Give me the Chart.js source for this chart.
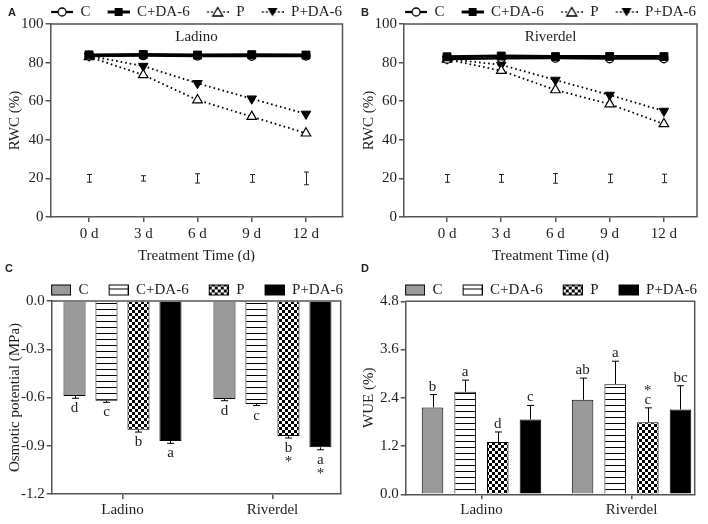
<!DOCTYPE html>
<html><head><meta charset="utf-8">
<script src="https://cdn.jsdelivr.net/npm/chart.js@4/dist/chart.umd.min.js"></script>
<style>
html,body{margin:0;padding:0;background:#fff;}
#wrap{position:relative;width:708px;height:524px;overflow:hidden;background:#fff;}
canvas{position:absolute;display:block;}
.tag{position:absolute;font:bold 11px 'Liberation Sans',Arial,sans-serif;color:#222;line-height:13px;}
</style></head><body>
<div id="wrap">
  <canvas id="cA" width="354" height="262" style="left:0;top:0"></canvas>
  <canvas id="cB" width="354" height="262" style="left:354px;top:0"></canvas>
  <canvas id="cC" width="354" height="262" style="left:0;top:262px"></canvas>
  <canvas id="cD" width="354" height="262" style="left:354px;top:262px"></canvas>
  <div class="tag" style="left:8px;top:6px">A</div>
  <div class="tag" style="left:361px;top:6px">B</div>
  <div class="tag" style="left:5px;top:262px">C</div>
  <div class="tag" style="left:361px;top:262px">D</div>
</div>
<script>
// ---------------- data ----------------
const seriesNames = ['C', 'C+DA-6', 'P', 'P+DA-6'];
const days = [0, 3, 6, 9, 12];
const dayLabels = ['0 d', '3 d', '6 d', '9 d', '12 d'];
const rwcTicks = [0, 20, 40, 60, 80, 100];

const rwcLadinoC   = [83.4, 83.6, 83.4, 83.3, 83.4];
const rwcLadinoCDA = [84.0, 84.2, 83.9, 84.1, 83.9];
const rwcLadinoP   = [83.0, 73.6, 60.6, 52.0, 43.4];
const rwcLadinoPDA = [83.5, 78.2, 69.3, 61.3, 53.4];
const rwcLadinoLSD = [2.0, 1.4, 2.4, 2.0, 3.3];

const rwcRiverdelC   = [81.8, 82.2, 82.3, 82.0, 82.0];
const rwcRiverdelCDA = [83.0, 83.4, 83.1, 83.2, 83.1];
const rwcRiverdelP   = [81.7, 75.8, 65.8, 58.5, 48.2];
const rwcRiverdelPDA = [82.0, 78.8, 71.0, 63.2, 54.9];
const rwcRiverdelLSD = [2.0, 2.0, 2.5, 2.2, 2.2];
const lsdLevel = 20;

const cultivars = ['Ladino', 'Riverdel'];
const osmTicks = [-1.2, -0.9, -0.6, -0.3, 0.0];
const osmC   = [-0.59, -0.61];
const osmCDA = [-0.62, -0.64];
const osmP   = [-0.80, -0.84];
const osmPDA = [-0.87, -0.91];
const osmErrC   = [0.015, 0.010];
const osmErrCDA = [0.010, 0.010];
const osmErrP   = [0.015, 0.012];
const osmErrPDA = [0.015, 0.015];
const osmLetC   = ['d', 'd'];
const osmLetCDA = ['c', 'c'];
const osmLetP   = ['b', 'b'];
const osmLetPDA = ['a', 'a'];
const osmStarP   = ['', '*'];
const osmStarPDA = ['', '*'];

const wueTicks = [0.0, 1.2, 2.4, 3.6, 4.8];
const wueC   = [2.16, 2.35];
const wueCDA = [2.55, 2.74];
const wueP   = [1.30, 1.79];
const wuePDA = [1.86, 2.11];
const wueErrC   = [0.32, 0.54];
const wueErrCDA = [0.29, 0.57];
const wueErrP   = [0.25, 0.36];
const wueErrPDA = [0.35, 0.59];
const wueLetC   = ['b', 'ab'];
const wueLetCDA = ['a', 'a'];
const wueLetP   = ['d', 'c'];
const wueLetPDA = ['c', 'bc'];
const wueStarP  = ['', '*'];
const noStar = ['', ''];

// ---------------- style ----------------
const FONT = "'Liberation Serif','Times New Roman',serif";
const AX = '#555555';
const TXT = '#1e1e1e';
const GRAY = '#9a9a9a';
Chart.defaults.font.family = FONT;
Chart.defaults.color = TXT;

function stripeTile() {
  const s = document.createElement('canvas'); s.width = 4; s.height = 6;
  const g = s.getContext('2d'); g.fillStyle = '#fff'; g.fillRect(0, 0, 4, 6);
  g.fillStyle = '#000'; g.fillRect(0, 5, 4, 1); return s;
}
function checkerTile() {
  const k = document.createElement('canvas'); k.width = 6; k.height = 6;
  const g = k.getContext('2d'); g.fillStyle = '#fff'; g.fillRect(0, 0, 6, 6);
  g.fillStyle = '#000'; g.fillRect(0, 0, 3, 3); g.fillRect(3, 3, 3, 3); return k;
}
function fills(ctx) {
  return [GRAY, ctx.createPattern(stripeTile(), 'repeat'), ctx.createPattern(checkerTile(), 'repeat'), '#000'];
}

function lineIcon(kind) {
  const c = document.createElement('canvas'); c.width = 27; c.height = 14;
  const g = c.getContext('2d'); const y = 7, x0 = 5, x1 = 27, cx = 16;
  g.strokeStyle = '#000'; g.fillStyle = '#000';
  if (kind < 2) {
    g.lineWidth = kind === 0 ? 2.2 : 3; g.beginPath(); g.moveTo(x0, y); g.lineTo(x1, y); g.stroke();
  } else {
    for (let x = x0 + 0.5; x < x1; x += 4) { g.fillRect(x, y - 0.8, 1.6, 1.6); }
  }
  g.lineWidth = 1.3;
  if (kind === 0) { g.beginPath(); g.arc(cx, y, 4, 0, Math.PI * 2); g.fillStyle = '#fff'; g.fill(); g.stroke(); }
  if (kind === 1) { g.fillRect(cx - 4, y - 4, 8, 8); }
  if (kind === 2) { g.beginPath(); g.moveTo(cx, y - 4.5); g.lineTo(cx - 5, y + 4); g.lineTo(cx + 5, y + 4); g.closePath(); g.fillStyle = '#fff'; g.fill(); g.stroke(); }
  if (kind === 3) { g.beginPath(); g.moveTo(cx - 5, y - 4); g.lineTo(cx + 5, y - 4); g.lineTo(cx, y + 4.5); g.closePath(); g.fill(); }
  return c;
}
function barIcon(kind) {
  const c = document.createElement('canvas'); c.width = 29; c.height = 13;
  const g = c.getContext('2d'); const f = fills(g);
  g.fillStyle = f[kind]; g.fillRect(9, 1, 20, 11);
  g.strokeStyle = '#000'; g.lineWidth = 1; g.strokeRect(9.5, 1.5, 19, 10);
  return c;
}

function legendCfg(icons, pad, maxH) {
  return {
    display: true, position: 'top', align: 'end', fullSize: true, maxHeight: maxH,
    labels: {
      usePointStyle: true, pointStyleWidth: icons[0].width, padding: pad,
      color: TXT, font: { family: FONT, size: 15 },
      sort: (a, b) => a.datasetIndex - b.datasetIndex,
      generateLabels(chart) {
        const items = Chart.defaults.plugins.legend.labels.generateLabels(chart);
        items.forEach(it => { it.pointStyle = icons[it.datasetIndex]; it.rotation = 0; });
        return items;
      }
    }
  };
}

const decor = {
  id: 'decor',
  afterDatasetsDraw(chart, args, opts) {
    const { ctx, chartArea: a } = chart;
    ctx.save();
    ctx.strokeStyle = AX; ctx.lineWidth = 1.5;
    ctx.beginPath(); ctx.moveTo(a.left, a.top); ctx.lineTo(a.right, a.top); ctx.lineTo(a.right, a.bottom); ctx.stroke();
    if (opts.title) {
      ctx.fillStyle = TXT; ctx.font = '15px ' + FONT; ctx.textAlign = 'center'; ctx.textBaseline = 'middle';
      ctx.fillText(opts.title, (a.left + a.right) / 2, a.top + 13);
    }
    ctx.restore();
  }
};

const lsdBars = {
  id: 'lsdBars',
  afterDatasetsDraw(chart, args, opts) {
    if (!opts.half) return;
    const { ctx } = chart; const xs = chart.scales.x, ys = chart.scales.y;
    ctx.save(); ctx.strokeStyle = '#222'; ctx.lineWidth = 1;
    days.forEach((d, i) => {
      const px = Math.round(xs.getPixelForValue(d)) + 0.5;
      const t = ys.getPixelForValue(opts.level + opts.half[i]);
      const b = ys.getPixelForValue(opts.level - opts.half[i]);
      ctx.beginPath();
      ctx.moveTo(px, t); ctx.lineTo(px, b);
      ctx.moveTo(px - 2.5, t); ctx.lineTo(px + 2.5, t);
      ctx.moveTo(px - 2.5, b); ctx.lineTo(px + 2.5, b);
      ctx.stroke();
    });
    ctx.restore();
  }
};

const barExtras = {
  id: 'barExtras',
  afterDatasetsDraw(chart, args, opts) {
    const { ctx } = chart; const ys = chart.scales.y;
    chart.data.datasets.forEach((ds, di) => {
      const meta = chart.getDatasetMeta(di);
      meta.data.forEach((bar, i) => {
        const v = ds.data[i].y, e = ds.errs[i];
        const sg = v < 0 ? -1 : 1;
        const y0 = ys.getPixelForValue(v), y1 = ys.getPixelForValue(v + sg * e);
        const px = Math.round(bar.x) + 0.5;
        ctx.save();
        ctx.strokeStyle = '#000'; ctx.lineWidth = 1;
        ctx.beginPath(); ctx.moveTo(px, y0); ctx.lineTo(px, y1);
        ctx.moveTo(px - 3.5, y1); ctx.lineTo(px + 3.5, y1); ctx.stroke();
        ctx.fillStyle = TXT; ctx.font = '15px ' + FONT; ctx.textAlign = 'center'; ctx.textBaseline = 'alphabetic';
        const let1 = ds.lets[i], star = ds.stars[i];
        if (sg < 0) {
          ctx.fillText(let1, bar.x, y1 + 14);
          if (star) ctx.fillText(star, bar.x, y1 + 28);
        } else {
          ctx.fillText(let1, bar.x, y1 - 4);
          if (star) ctx.fillText(star, bar.x, y1 - 13);
        }
        ctx.restore();
      });
    });
  }
};

function yAxis(ticksArr, fmt, title, w) {
  return {
    type: 'linear', position: 'left', min: ticksArr[0], max: ticksArr[ticksArr.length - 1],
    afterBuildTicks(s) { s.ticks = ticksArr.map(v => ({ value: v })); },
    ticks: { color: TXT, font: { family: FONT, size: 15 }, padding: 2, callback: fmt },
    grid: { display: true, drawOnChartArea: false, drawTicks: true, tickLength: 5, color: AX, lineWidth: 1.5 },
    border: { display: true, color: AX, width: 1.5 },
    title: { display: true, text: title, color: TXT, font: { family: FONT, size: 15 }, padding: { top: 6, bottom: 0 } },
    afterFit(s) { s.width = w; }
  };
}
function padAxis(w) {
  return { type: 'linear', position: 'right', display: true, ticks: { display: false }, grid: { display: false },
    border: { display: false }, afterFit(s) { s.width = w; } };
}
function xAxis(min, max, vals, labels, title, h, tpad) {
  const ax = {
    type: 'linear', position: 'bottom', min, max, offset: false,
    afterBuildTicks(s) { s.ticks = vals.map(v => ({ value: v })); },
    ticks: { color: TXT, font: { family: FONT, size: 15 }, padding: tpad, autoSkip: false, maxRotation: 0,
      callback: (v, i) => labels[i] },
    grid: { display: true, offset: false, drawOnChartArea: false, drawTicks: true, tickLength: 5, color: AX, lineWidth: 1.5 },
    border: { display: true, color: AX, width: 1.5 },
    afterFit(s) { s.height = h; }
  };
  if (title) ax.title = { display: true, text: title, color: TXT, font: { family: FONT, size: 15 }, padding: { top: 0, bottom: -3 } };
  return ax;
}

function lineChart(id, title, c, cda, p, pda, lsd, xmin, xmax, yw, rw) {
  const pts = arr => days.map((d, i) => ({ x: d, y: arr[i] }));
  const icons = [0, 1, 2, 3].map(lineIcon);
  return new Chart(document.getElementById(id), {
    type: 'line',
    data: {
      datasets: [
        { label: seriesNames[0], data: pts(c), order: 1, borderColor: '#000', borderWidth: 2.2,
          pointStyle: 'circle', pointRadius: 4, pointBackgroundColor: '#fff', pointBorderColor: '#000', pointBorderWidth: 1.3 },
        { label: seriesNames[1], data: pts(cda), order: 0, borderColor: '#000', borderWidth: 3,
          pointStyle: 'rect', pointRadius: 5.6, pointBackgroundColor: '#000', pointBorderColor: '#000', pointBorderWidth: 1 },
        { label: seriesNames[2], data: pts(p), order: 2, borderColor: '#000', borderWidth: 1.8, borderDash: [1.6, 3],
          pointStyle: 'triangle', pointRadius: 5.5, pointBackgroundColor: '#fff', pointBorderColor: '#000', pointBorderWidth: 1.2 },
        { label: seriesNames[3], data: pts(pda), order: 2, borderColor: '#000', borderWidth: 1.8, borderDash: [1.6, 3],
          pointStyle: 'triangle', rotation: 180, pointRadius: 5.5, pointBackgroundColor: '#000', pointBorderColor: '#000', pointBorderWidth: 1 }
      ]
    },
    options: {
      responsive: false, animation: false, events: [],
      layout: { padding: { top: -7.5, left: 0, right: 0, bottom: 0 } },
      plugins: {
        legend: legendCfg(icons, 12, 31.5),
        tooltip: { enabled: false },
        decor: { title },
        lsdBars: { level: lsdLevel, half: lsd }
      },
      scales: {
        x: xAxis(xmin, xmax, days, dayLabels, 'Treatment Time (d)', 45, 3),
        y: yAxis(rwcTicks, v => String(v), 'RWC (%)', yw),
        yr: padAxis(rw)
      }
    },
    plugins: [decor, lsdBars]
  });
}

function barChart(id, ticksArr, fmt, ytitle, sets, xmin, xmax, catPct, barPct, padTop, maxH, xh, yw, rw) {
  const cv = document.getElementById(id);
  const f = fills(cv.getContext('2d'));
  const icons = [0, 1, 2, 3].map(barIcon);
  return new Chart(cv, {
    type: 'bar',
    data: {
      datasets: sets.map((s, k) => ({
        label: seriesNames[k], data: cultivars.map((_, i) => ({ x: i, y: s.v[i] })),
        backgroundColor: f[k], borderColor: '#000', borderWidth: 1,
        errs: s.e, lets: s.l, stars: s.s
      }))
    },
    options: {
      responsive: false, animation: false, events: [],
      layout: { padding: { top: padTop, left: 0, right: 0, bottom: 0 } },
      datasets: { bar: { categoryPercentage: catPct, barPercentage: barPct } },
      plugins: {
        legend: legendCfg(icons, 11, maxH),
        tooltip: { enabled: false },
        decor: {}
      },
      scales: {
        x: xAxis(xmin, xmax, cultivars.map((_, i) => i), cultivars, null, xh, 2),
        y: yAxis(ticksArr, fmt, ytitle, yw),
        yr: padAxis(rw)
      }
    },
    plugins: [decor, barExtras]
  });
}

lineChart('cA', 'Ladino', rwcLadinoC, rwcLadinoCDA, rwcLadinoP, rwcLadinoPDA, rwcLadinoLSD, -2.13, 14.02, 50.5, 11.5);
lineChart('cB', 'Riverdel', rwcRiverdelC, rwcRiverdelCDA, rwcRiverdelP, rwcRiverdelPDA, rwcRiverdelLSD, -2.38, 13.83, 50, 11);

barChart('cC', osmTicks, v => v.toFixed(1), 'Osmotic potential (MPa)', [
  { v: osmC, e: osmErrC, l: osmLetC, s: noStar },
  { v: osmCDA, e: osmErrCDA, l: osmLetCDA, s: noStar },
  { v: osmP, e: osmErrP, l: osmLetP, s: osmStarP },
  { v: osmPDA, e: osmErrPDA, l: osmLetPDA, s: osmStarPDA }
], -0.472, 1.455, 0.853, 0.69, 9.5, 29.5, 30, 51.7, 13.3);

barChart('cD', wueTicks, v => v.toFixed(1), 'WUE (%)', [
  { v: wueC, e: wueErrC, l: wueLetC, s: noStar },
  { v: wueCDA, e: wueErrCDA, l: wueLetCDA, s: noStar },
  { v: wueP, e: wueErrP, l: wueLetP, s: wueStarP },
  { v: wuePDA, e: wueErrPDA, l: wueLetPDA, s: noStar }
], -0.505, 1.421, 0.87, 0.66, 9.5, 29.8, 29.7, 51.7, 13.3);
</script>
</body></html>
